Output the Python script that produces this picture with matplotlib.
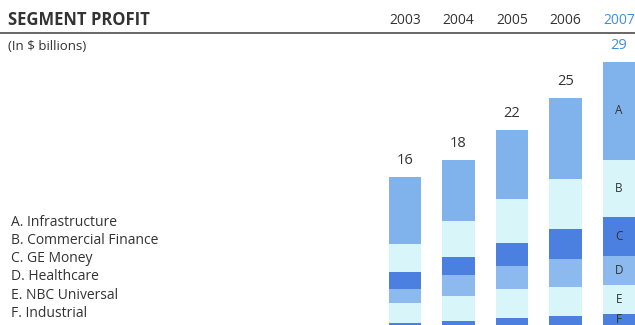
import matplotlib
matplotlib.use("Agg")
import matplotlib.pyplot as plt
import numpy as np

years = ["2003", "2004", "2005", "2006", "2007"]
totals = [16, 18, 22, 25, 29]
segments = ["Infrastructure", "Commercial Finance", "GE Money", "Healthcare",
            "NBC Universal", "Industrial"]
letters = ["A", "B", "C", "D", "E", "F"]
# segment values, $ billions
infrastructure = [7.3, 6.7, 7.5, 8.8, 10.6]
commercial_finance = [3.0, 3.9, 4.7, 5.4, 6.2]
ge_money = [1.8, 1.9, 2.5, 3.3, 4.3]
healthcare = [1.6, 2.3, 2.5, 3.0, 3.1]
nbc_universal = [2.1, 2.7, 3.2, 3.2, 3.2]
industrial = [0.7, 0.9, 1.2, 1.4, 1.6]

series = [infrastructure, commercial_finance, ge_money, healthcare,
          nbc_universal, industrial]
colors = ["#80b2ec", "#d8f5fa", "#4b7fe0", "#8cb9ee", "#d8f5fa", "#4b7fe0"]

plt.rcParams['font.family'] = ['Open Sans', 'DejaVu Sans']

W, H = 635, 325
fig = plt.figure(figsize=(W / 100, H / 100), dpi=100)
ax = fig.add_axes([0, 0, 1, 1])

x = np.arange(len(years))
bw = 0.6
# bottom-up stacking: F (industrial) at bottom, A at top
order = list(range(len(series)))[::-1]
bottom = np.zeros(len(years))
bounds = {}
for i in order:
    vals = np.array(series[i])
    ax.bar(x, vals, bw, bottom=bottom, color=colors[i], linewidth=0)
    bounds[i] = (bottom.copy(), bottom + vals)
    bottom = bottom + vals

ax.set_xlim(-405 / 53.5, (635 - 405) / 53.5)
ax.set_ylim(4 / 9.2, 329 / 9.2)
ax.axis('off')

dark = "#333333"
blue = "#3d8ee6"

# totals above bars
for xi, (t, top) in enumerate(zip(totals, bottom)):
    c = blue if xi == len(years) - 1 else dark
    ax.text(xi, top + 1.0, str(t), ha='center', va='bottom', fontsize=10.5, color=c)

# letters inside 2007 bar
for i in range(len(series)):
    lo, hi = bounds[i]
    mid = (lo[-1] + hi[-1]) / 2
    if i == len(series) - 1:
        mid = max(mid, 4 / 9.2 + 0.55)
    ax.text(len(years) - 1, mid, letters[i], ha='center', va='center',
            fontsize=8.5, color=dark)

# header
def px(xp, yp):
    return xp / W, 1 - yp / H

fig.text(*px(8, 20), "SEGMENT PROFIT", ha='left', va='center', fontsize=12,
         fontweight='bold', color=dark)
fig.text(*px(8, 47), "(In $ billions)", ha='left', va='center', fontsize=9.5,
         color=dark)
for xi, y in enumerate(years):
    c = blue if xi == len(years) - 1 else dark
    xd = ax.transData.transform((xi, 0))[0]
    fig.text(xd / W, 1 - 21 / H, y, ha='center', va='center', fontsize=10,
             color=c)
fig.add_artist(plt.Line2D([0, 1], [1 - 33 / H, 1 - 33 / H], color="#666666",
                          linewidth=1.4, transform=fig.transFigure))

# legend list
for i, (l, s) in enumerate(zip(letters, segments)):
    fig.text(*px(11, 222 + i * 18.3), f"{l}. {s}", ha='left', va='center',
             fontsize=10, color=dark)

fig.savefig("out.png", dpi=100)
